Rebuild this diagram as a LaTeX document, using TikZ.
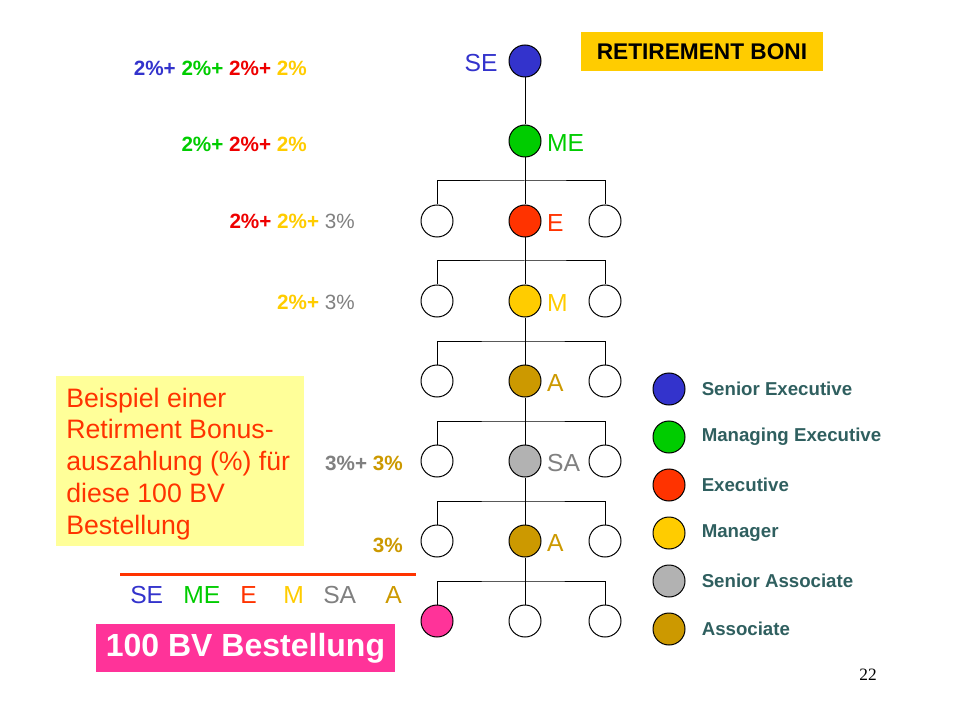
\documentclass[tikz,border=0pt]{standalone}
\usepackage{fontspec}
\setmainfont{Liberation Sans}
\newfontfamily\pagefont{Liberation Serif}
\usepackage{xcolor}
\usetikzlibrary{positioning,calc}

\definecolor{seblue}{HTML}{3333CC}
\definecolor{megreen}{HTML}{00CC00}
\definecolor{ered}{HTML}{FF3300}
\definecolor{pred}{HTML}{EE0000}
\definecolor{mgold}{HTML}{FFCC00}
\definecolor{sagray}{HTML}{B2B2B2}
\definecolor{txtgray}{HTML}{808080}
\definecolor{agold}{HTML}{CC9900}
\definecolor{orderpink}{HTML}{FF3399}
\definecolor{notefill}{HTML}{FFFF99}
\definecolor{legteal}{HTML}{2F5F5F}

\begin{document}
\begin{tikzpicture}[x=0.75pt,y=-0.75pt,
  member/.style={circle,draw,line width=0.75pt,minimum size=24pt,inner sep=0pt},
  lvl/.style={inner sep=0pt,font=\fontsize{18.5}{20}\selectfont},
  treelab/.style={lvl,yshift=-1.5pt},
  pct/.style={anchor=base east,inner sep=0pt,font=\bfseries\fontsize{15.5}{17}\selectfont},
  legtext/.style={inner sep=0pt,text=legteal,font=\bfseries\fontsize{14}{16}\selectfont},
  link/.style={line width=0.75pt}]
\useasboundingbox (0,0) rectangle (960,720);

% line of sponsors
\node[member,fill=seblue] (se) at (525,61) {};
\node[member,fill=megreen] (me) at (525,141) {};
\node[member,fill=ered] (e) at (525,221) {};
\node[member,fill=mgold] (m) at (525,301) {};
\node[member,fill=agold] (a1) at (525,381) {};
\node[member,fill=sagray] (sa) at (525,461) {};
\node[member,fill=agold] (a2) at (525,541) {};
\node[member,fill=white] (c) at (525,621) {};

% side members of each level
\foreach \n/\y/\f in {e/221/white,m/301/white,a1/381/white,sa/461/white,a2/541/white,c/621/orderpink}{
  \node[member,fill=\f] (\n-l) at (437,\y) {};
  \node[member,fill=white] (\n-r) at (605,\y) {};
}

\draw[link] (se) -- (me);
\foreach \p/\n in {me/e,e/m,m/a1,a1/sa,sa/a2,a2/c}{
  \draw[link] (\p) -- (\n);
  \draw[link] (\n-l) |- ($(\p)!.5!(\n)$) -| (\n-r);
}

% level names
\node[treelab,text=seblue,left=8pt of se] (se-lab) {SE};
\node[treelab,text=megreen,right=4pt of me] (me-lab) {ME};
\node[treelab,text=ered,right=4pt of e] (e-lab) {E};
\node[treelab,text=mgold,right=4pt of m] (m-lab) {M};
\node[treelab,text=agold,right=4pt of a1] (a1-lab) {A};
\node[treelab,text=txtgray,right=4pt of sa] (sa-lab) {SA};
\node[treelab,text=agold,right=4pt of a2] (a2-lab) {A};

% bonus per level
\node[pct] (p-se) at (307,76) {\textcolor{seblue}{2\%+} \textcolor{megreen}{2\%+} \textcolor{pred}{2\%+} \textcolor{mgold}{2\%}};
\node[pct] (p-me) at (307,152) {\textcolor{megreen}{2\%+} \textcolor{pred}{2\%+} \textcolor{mgold}{2\%}};
\node[pct] (p-e) at (355,229) {\textcolor{pred}{2\%+} \textcolor{mgold}{2\%+} \textcolor{txtgray}{\mdseries 3\%}};
\node[pct] (p-m) at (355,310) {\textcolor{mgold}{2\%+} \textcolor{txtgray}{\mdseries 3\%}};
\node[pct] (p-sa) at (403,470) {\textcolor{txtgray}{3\%+} \textcolor{agold}{3\%}};
\node[pct] (p-a) at (403,552) {\textcolor{agold}{3\%}};

% title
\node[fill=mgold,minimum width=181.5pt,minimum height=29.25pt,inner sep=0pt,
  font=\bfseries\fontsize{17}{19}\selectfont] (title) at (702,51.5) {RETIREMENT BONI};

% note
\node[fill=notefill,minimum width=186pt,minimum height=127.5pt] (note-bg) at (180,461) {};
\node[anchor=north west,inner sep=0pt,align=left,text=ered,
  font=\fontsize{20}{23.8}\selectfont] (note) at (66,387.5)
  {Beispiel einer\\Retirment Bonus-\\auszahlung (\%) für\\diese 100 BV\\Bestellung};

% order
\draw[line width=2.25pt,ered] (120,574) -- (416,574);
\node[lvl,anchor=base west,text=seblue] (b-se) at (130,603) {SE};
\node[lvl,anchor=base west,text=megreen] (b-me) at (183,603) {ME};
\node[lvl,anchor=base west,text=ered] (b-e) at (240,603) {E};
\node[lvl,anchor=base west,text=mgold] (b-m) at (283,603) {M};
\node[lvl,anchor=base west,text=txtgray] (b-sa) at (323,603) {SA};
\node[lvl,anchor=base west,text=agold] (b-a) at (385,603) {A};
\node[fill=orderpink,minimum width=224.25pt,minimum height=36pt,inner sep=0pt,text=white,
  font=\bfseries\fontsize{24}{26}\selectfont] (order) at (245.5,648) {100 BV Bestellung};

% legend
\foreach \c/\t [count=\i] in {seblue/Senior Executive,megreen/Managing Executive,ered/Executive,mgold/Manager,sagray/Senior Associate,agold/Associate}{
  \node[member,fill=\c] (leg-\i) at (669,{341+48*\i}) {};
  \node[legtext,right=12pt of leg-\i] (leg-\i-text) {\t};
}

\node[anchor=base,inner sep=0pt,font=\pagefont\fontsize{13}{15}\selectfont] (page) at (868,680) {22};
\end{tikzpicture}
\end{document}
